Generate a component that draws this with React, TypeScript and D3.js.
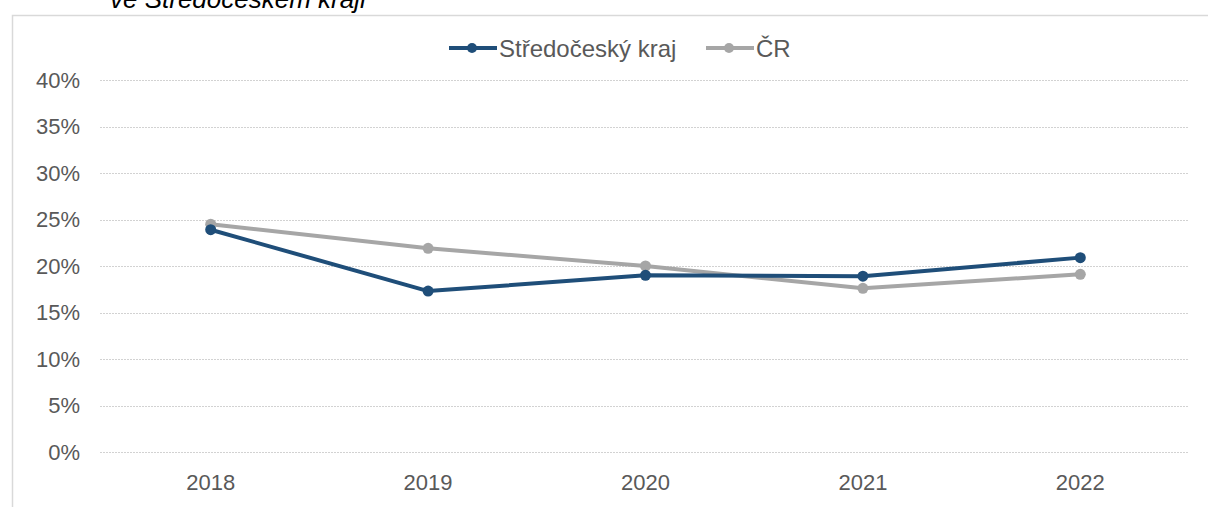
import { useEffect, useRef } from "react";
import * as d3 from "d3";

const years = ["2018", "2019", "2020", "2021", "2022"];
const stredocesky = [23.9, 17.3, 19.0, 18.9, 20.9];
const cr = [24.5, 21.9, 20.0, 17.6, 19.1];
const yTicks = [0, 5, 10, 15, 20, 25, 30, 35, 40];

const BLUE = "#1f4e79";
const GREY = "#a6a6a6";
const TEXT = "#595959";

export default function App() {
  const svgRef = useRef<SVGSVGElement>(null);

  useEffect(() => {
    const svg = d3.select(svgRef.current);
    svg.selectAll("*").remove();

    const width = 1208;
    const height = 507;
    const m = { left: 102, right: 19, top: 80, bottom: 55 };

    // frame + cut-off title
    svg
      .append("path")
      .attr("d", `M12.5,${height} L12.5,15.5 L${width},15.5`)
      .attr("fill", "none")
      .attr("stroke", "#d9d9d9")
      .attr("stroke-width", 1.5);

    svg
      .append("text")
      .attr("x", 110)
      .attr("y", 8)
      .attr("font-size", 26)
      .attr("font-style", "italic")
      .attr("fill", "#000")
      .text("ve Středočeském kraji");

    const x = d3
      .scaleBand()
      .domain(years)
      .range([m.left, width - m.right]);
    const y = d3
      .scaleLinear()
      .domain([0, 40])
      .range([height - m.bottom, m.top]);

    // grid
    svg
      .append("g")
      .selectAll("line")
      .data(yTicks)
      .join("line")
      .attr("x1", 100)
      .attr("x2", width - m.right)
      .attr("y1", (d) => Math.round(y(d)) + 0.5)
      .attr("y2", (d) => Math.round(y(d)) + 0.5)
      .attr("stroke", "#d2d2d2")
      .attr("stroke-dasharray", "2,1");

    // y labels
    svg
      .append("g")
      .selectAll("text")
      .data(yTicks)
      .join("text")
      .attr("x", 80)
      .attr("y", (d) => y(d))
      .attr("dy", "0.36em")
      .attr("text-anchor", "end")
      .attr("font-size", 22)
      .attr("fill", TEXT)
      .text((d) => `${d}%`);

    // x labels
    svg
      .append("g")
      .selectAll("text")
      .data(years)
      .join("text")
      .attr("x", (d) => x(d)! + x.bandwidth() / 2)
      .attr("y", 490)
      .attr("text-anchor", "middle")
      .attr("font-size", 22)
      .attr("fill", TEXT)
      .text((d) => d);

    const series = [
      { name: "ČR", values: cr, color: GREY },
      { name: "Středočeský kraj", values: stredocesky, color: BLUE },
    ];

    const lineGen = d3
      .line<number>()
      .x((_, i) => x(years[i])! + x.bandwidth() / 2)
      .y((d) => y(d));

    series.forEach((s) => {
      const g = svg.append("g");
      g.append("path")
        .attr("d", lineGen(s.values))
        .attr("fill", "none")
        .attr("stroke", s.color)
        .attr("stroke-width", 4)
        .attr("stroke-linejoin", "round");
      g.selectAll("circle")
        .data(s.values)
        .join("circle")
        .attr("cx", (_, i) => x(years[i])! + x.bandwidth() / 2)
        .attr("cy", (d) => y(d))
        .attr("r", 5.5)
        .attr("fill", s.color);
    });

    // legend
    const legend = [
      { name: "Středočeský kraj", color: BLUE, x0: 449 },
      { name: "ČR", color: GREY, x0: 706 },
    ];
    const lg = svg.append("g");
    legend.forEach((l) => {
      lg.append("line")
        .attr("x1", l.x0)
        .attr("x2", l.x0 + 48)
        .attr("y1", 48)
        .attr("y2", 48)
        .attr("stroke", l.color)
        .attr("stroke-width", 4);
      lg.append("circle")
        .attr("cx", l.x0 + 23)
        .attr("cy", 48)
        .attr("r", 5)
        .attr("fill", l.color);
      lg.append("text")
        .attr("x", l.x0 + 50)
        .attr("y", 48)
        .attr("dy", "0.36em")
        .attr("font-size", 24)
        .attr("fill", TEXT)
        .text(l.name);
    });
  }, []);

  return (
    <svg
      ref={svgRef}
      width={1208}
      height={507}
      style={{
        position: "absolute",
        left: 0,
        top: 0,
        fontFamily: "'Liberation Sans', Arial, sans-serif",
        background: "#fff",
      }}
    />
  );
}
